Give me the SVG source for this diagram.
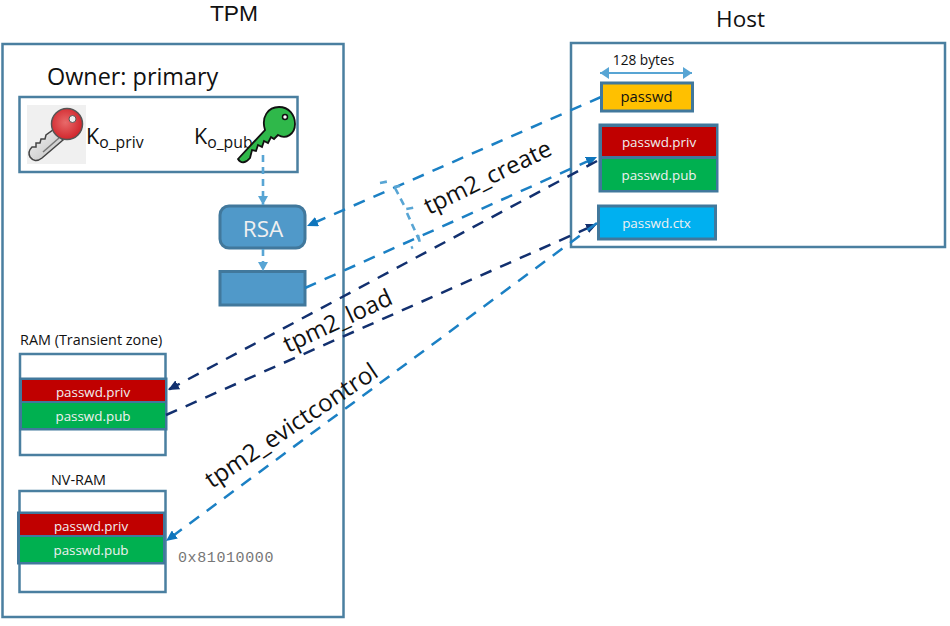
<svg xmlns="http://www.w3.org/2000/svg" width="950" height="626" viewBox="0 0 950 626">
<style>
text{font-family:"Open Sans","Noto Sans","Liberation Sans",sans-serif;fill:#111}
.box{fill:#fff;stroke:#4a7fa0;stroke-width:2.5}
.stack{fill:#41789c;stroke:#41789c;stroke-width:3}
.priv{fill:#c00000}
.pub{fill:#00b050}
.w{fill:#f0f0f0;font-size:13.400px;text-anchor:middle}
.cmd{font-size:23.800px}
.blue{fill:#5099c9;stroke:#41789c;stroke-width:3}
.c{fill:none;stroke-width:2.500;stroke-dasharray:12 9.500}
.lb{stroke:#1b80c4}
.nv{stroke:#12306f}
.sm{fill:none;stroke:#58a5d4;stroke-width:2.600;stroke-dasharray:7 5}
</style>
<defs>
<marker id="ab" markerUnits="userSpaceOnUse" markerWidth="12" markerHeight="10" refX="11" refY="5" orient="auto"><path d="M0,0L11,5L0,10z" fill="#0f75bc"/></marker>
<marker id="an" markerUnits="userSpaceOnUse" markerWidth="12" markerHeight="10" refX="11" refY="5" orient="auto"><path d="M0,0L11,5L0,10z" fill="#12306f"/></marker>
<marker id="as" markerUnits="userSpaceOnUse" markerWidth="10" markerHeight="10" refX="9" refY="5" orient="auto"><path d="M0,0L9,5L0,10z" fill="#58a5d4"/></marker>
<marker id="ad" markerUnits="userSpaceOnUse" markerWidth="10" markerHeight="12" refX="9" refY="6" orient="auto-start-reverse"><path d="M0,0L9,6L0,12z" fill="#58a5d4"/></marker>
<linearGradient id="steel" x1="0" y1="0" x2="1" y2="1"><stop offset="0" stop-color="#f4f4f4"/><stop offset="1" stop-color="#bdbdbd"/></linearGradient>
<radialGradient id="redg" cx="0.450" cy="0.450" r="0.600"><stop offset="0" stop-color="#e86a6a"/><stop offset="1" stop-color="#cf2027"/></radialGradient>
</defs>

<text x="234" y="21" style="font-family:'Liberation Sans',sans-serif;font-size:22.800px;text-anchor:middle">TPM</text>
<text x="740.500" y="27" style="font-size:22.500px;text-anchor:middle">Host</text>

<g id="tpm"><rect class="box" x="2.500" y="44" width="341" height="573"/></g>
<g id="host"><rect class="box" x="571" y="43" width="374" height="204"/></g>

<g id="owner">
<text x="47" y="85" style="font-size:23.400px">Owner: primary</text>
<rect class="box" x="19.500" y="97" width="278" height="75"/>
</g>

<g id="key-priv">
<rect x="27" y="105" width="59" height="59" fill="#f0f0f0"/>
<path d="M53,130L63,140L42,158C37,162 33,161 30,157C28,153 29,150 32,147L36,147L36,143L40,143L41,139L45,139L46,135z" fill="url(#steel)" stroke="#444" stroke-width="1.500"/>
<path d="M43,152L59,138" stroke="#777" stroke-width="1.500"/>
<circle cx="67" cy="124" r="15.500" fill="url(#redg)" stroke="#555" stroke-width="1.500"/>
<circle cx="72.500" cy="119" r="3.500" fill="#eee" stroke="#555"/>
<text x="86" y="144" style="font-size:21.500px">K<tspan dy="4" style="font-size:15.800px">o_priv</tspan></text>
</g>

<g id="key-pub">
<text x="194" y="144" style="font-size:21.500px">K<tspan dy="4" style="font-size:15.800px">o_pub</tspan></text>
<path d="M238,159L265,130C261,117 268,107 279,107C289,107 295,115 295,124C295,134 286,140 278,135L274,139L271,137L268,143L264,141L262,147L258,145L256,151L252,150L250,158C246,163 241,164 238,159z" fill="#2fb84a" stroke="#111" stroke-width="1.800"/>
<circle cx="285" cy="117" r="2.500" fill="#fff" stroke="#111" stroke-width="1.500"/>
</g>

<g id="rsa">
<rect class="blue" x="220" y="206" width="85" height="42" rx="9"/>
<text x="263" y="237" style="font-size:22.500px;text-anchor:middle;fill:#f0f0f0">RSA</text>
</g>
<g id="result"><rect class="blue" x="220" y="271.500" width="85" height="33.500"/></g>

<g id="ram">
<text x="20" y="345" style="font-size:14.400px">RAM (Transient zone)</text>
<rect class="box" x="20" y="354" width="145.500" height="101"/>
<rect class="stack" x="20.500" y="379" width="145.500" height="50"/>
<rect class="priv" x="22" y="380" width="143" height="21"/>
<rect class="pub" x="22" y="403" width="143" height="25"/>
<text class="w" x="93" y="397">passwd.priv</text>
<text class="w" x="93" y="421">passwd.pub</text>
</g>

<g id="nvram">
<text x="51" y="485" style="font-size:14.400px">NV-RAM</text>
<rect class="box" x="19.500" y="491" width="146" height="101"/>
<rect class="stack" x="18.500" y="513" width="145" height="50"/>
<rect class="priv" x="20" y="514" width="143" height="21"/>
<rect class="pub" x="20" y="537" width="143" height="25"/>
<text class="w" x="91" y="531">passwd.priv</text>
<text class="w" x="91" y="555">passwd.pub</text>
<text x="178" y="562" style="font-family:'Liberation Mono',monospace;font-size:15px;letter-spacing:.6px;fill:#777">0x81010000</text>
</g>

<g id="passwd">
<text x="643.500" y="65" style="font-size:13.700px;text-anchor:middle">128 bytes</text>
<rect x="601.500" y="83" width="91" height="28" fill="#ffc000" stroke="#41789c" stroke-width="3"/>
<text x="646.500" y="102" style="font-size:14.800px;text-anchor:middle">passwd</text>
</g>
<g id="passwd-pair">
<rect class="stack" x="600" y="125" width="117" height="66"/>
<rect class="priv" x="602" y="127" width="114" height="29"/>
<rect class="pub" x="602" y="159" width="114" height="31"/>
<text class="w" x="659" y="147">passwd.priv</text>
<text class="w" x="659" y="180">passwd.pub</text>
</g>
<g id="passwd-ctx">
<rect x="598.500" y="206" width="117" height="33" fill="#00b0f0" stroke="#41789c" stroke-width="3"/>
<text class="w" x="656.500" y="228">passwd.ctx</text>
</g>

<g id="connectors">
<path class="sm" d="M263,155V205" marker-end="url(#as)"/>
<path class="sm" d="M263,249V271" marker-end="url(#as)"/>
<path d="M600,73H692" fill="none" stroke="#58a5d4" stroke-width="2" marker-start="url(#ad)" marker-end="url(#ad)"/>
<path class="c lb" d="M601,97L307,226" marker-end="url(#ab)"/>
<path class="c lb" d="M305,288L597,157" marker-end="url(#ab)"/>
<path class="c nv" d="M597,161L168,390" marker-end="url(#an)"/>
<path class="c nv" d="M166,415L597,224" marker-end="url(#an)"/>
<path class="c lb" d="M597,223L166,541" marker-end="url(#ab)"/>
<path class="sm" d="M380,183L390,181M394,187L400,186M395,188L406,209L418,207M407,213L420,242M418,235L420,243M411,248L413,247"/>
</g>

<text class="cmd" transform="translate(429,215) rotate(-26)">tpm2_create</text>
<text class="cmd" transform="translate(288,353) rotate(-25)">tpm2_load</text>
<text class="cmd" style="font-size:24.200px" transform="translate(212,489) rotate(-34)">tpm2_evictcontrol</text>
</svg>
